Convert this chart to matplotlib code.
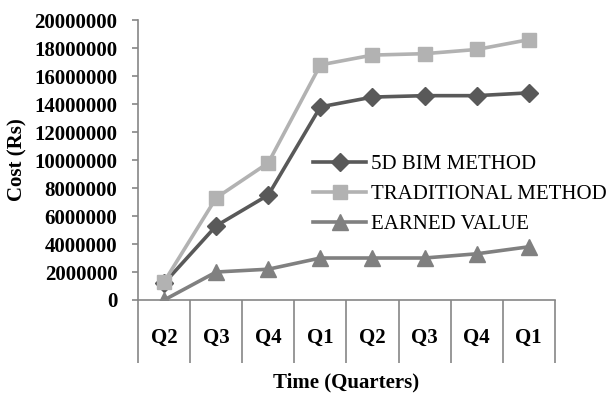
import matplotlib
matplotlib.use('Agg')
import matplotlib.pyplot as plt
from matplotlib.ticker import FixedLocator, NullFormatter

# -----------------------------------------------------------------------------
# data

quarters = ['Q2', 'Q3', 'Q4', 'Q1', 'Q2', 'Q3', 'Q4', 'Q1']
bim = [1200000, 5300000, 7500000, 13800000, 14500000, 14600000, 14600000, 14800000]
traditional = [1300000, 7300000, 9800000, 16800000, 17500000, 17600000, 17900000, 18600000]
earned = [0, 2000000, 2200000, 3000000, 3000000, 3000000, 3300000, 3800000]

# -----------------------------------------------------------------------------
# plot

plt.rcParams['font.family'] = ['Liberation Serif', 'DejaVu Serif']
fs = 15

fig = plt.figure(figsize=(6.11, 3.94), dpi=100)
ax = fig.add_axes([0.226, 0.2386, 0.682, 0.7104])

x = range(len(quarters))
ax.plot(x, bim, '-D', color='#595959', lw=2.6, ms=9, label='5D BIM METHOD')
ax.plot(x, traditional, '-s', color='#b2b2b2', lw=2.6, ms=10.5, label='TRADITIONAL METHOD')
ax.plot(x, earned, '-^', color='#808080', lw=2.6, ms=11, label='EARNED VALUE')

ax.set_xlim(-0.5, len(quarters) - 0.5)
ax.set_ylim(0, 20000000)
ax.set_yticks(range(0, 20000001, 2000000))
ax.set_yticklabels([str(v) for v in range(0, 20000001, 2000000)],
                   fontsize=fs, fontweight='bold')

ax.set_xticks(list(x))
ax.set_xticklabels(quarters, fontsize=fs, fontweight='bold')
ax.tick_params(axis='x', which='major', length=0, pad=20)
ax.xaxis.set_minor_locator(FixedLocator([i - 0.5 for i in range(len(quarters) + 1)]))
ax.xaxis.set_minor_formatter(NullFormatter())
ax.tick_params(axis='x', which='minor', length=45, width=1.2, color='#868686')
ax.tick_params(axis='y', length=4, width=1.2, color='#868686', pad=11)

for s in ['top', 'right']:
    ax.spines[s].set_visible(False)
for s in ['left', 'bottom']:
    ax.spines[s].set_color('#868686')
    ax.spines[s].set_linewidth(1.2)

ax.set_ylabel('Cost (Rs)', fontsize=fs, fontweight='bold')
ax.yaxis.set_label_coords(-0.266, 0.5)
ax.set_xlabel('Time (Quarters)', fontsize=fs, fontweight='bold')
ax.xaxis.set_label_coords(0.5, -0.26)

ax.legend(loc='upper left', bbox_to_anchor=(0.42, 0.52), frameon=False,
          fontsize=15, handlelength=2.55, handletextpad=0.25,
          labelspacing=0.5, borderaxespad=0, borderpad=0)

fig.savefig('out.png', dpi=100)
